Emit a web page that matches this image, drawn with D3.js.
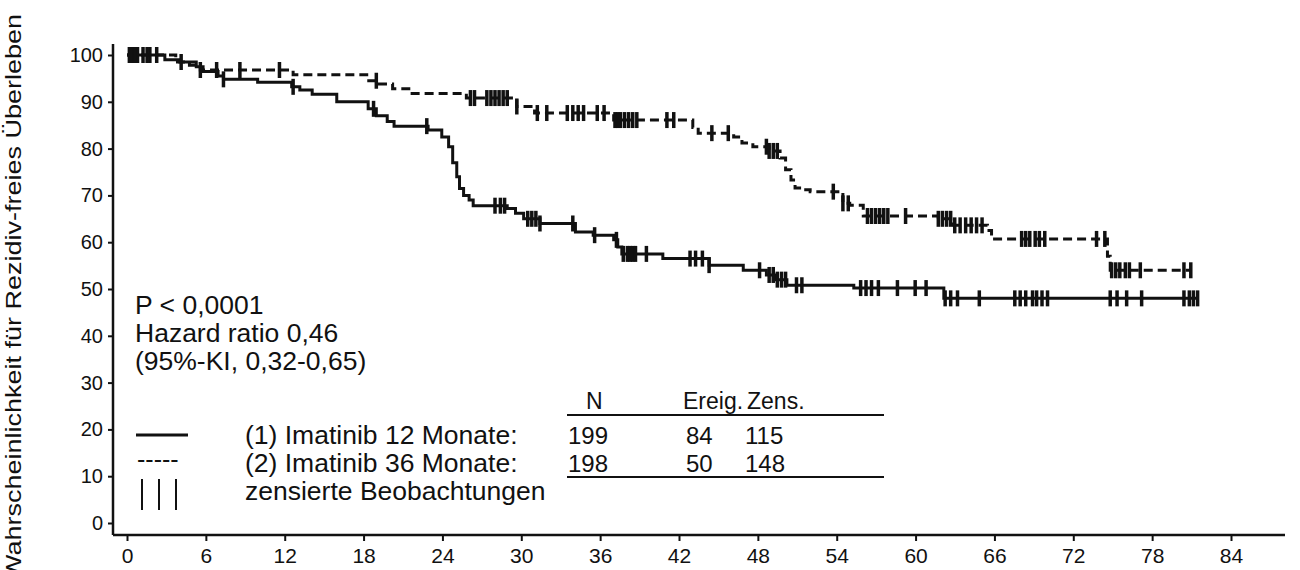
<!DOCTYPE html>
<html>
<head>
<meta charset="utf-8">
<script src="https://cdn.jsdelivr.net/npm/d3@7"></script>
<style>
body { margin: 0; background: #fff; }
text { font-family: "Liberation Sans", Arial, sans-serif; fill: #111; }
</style>
</head>
<body>
<div id="chart"></div>
<script>
// tick values
var xTicks = [0, 6, 12, 18, 24, 30, 36, 42, 48, 54, 60, 66, 72, 78, 84];
var yTicks = [0, 10, 20, 30, 40, 50, 60, 70, 80, 90, 100];

// (1) Imatinib 12 Monate - step curve (month, % survival) and censored months
var timeA = [0, 2.88, 4.02, 5.27, 5.79, 6.93, 7.34, 9.94, 12.53, 13.15, 14.09, 15.96, 18.35, 18.97, 19.80, 20.32, 22.91, 23.95, 24.47, 24.78, 25.09, 25.30, 25.61, 26.03, 26.34, 28.93, 29.56, 30.18, 31.42, 34.12, 35.47, 37.03, 37.34, 37.65, 40.77, 44.29, 46.89, 48.65, 49.38, 50.21, 55.30, 62.15, 81.46];
var survA = [100, 99, 98.5, 97.5, 96.5, 95.5, 94.8, 94.2, 93.2, 92.5, 91.6, 90, 88.5, 87, 85.8, 84.8, 84, 82.5, 80.4, 77, 74, 71.5, 70, 69, 67.8, 67.2, 66.2, 65, 64, 62.2, 61.5, 60.5, 59, 57.5, 56.5, 55.1, 54, 53, 52, 50.8, 50.2, 48, 48];
var censorA = [0.18, 0.34, 0.49, 0.65, 0.80, 1.22, 1.74, 2.26, 4.12, 7.34, 12.64, 18.76, 22.81, 28.0, 28.41, 28.73, 30.49, 30.80, 31.11, 31.42, 33.92, 35.58, 37.24, 37.76, 38.07, 38.28, 38.48, 38.69, 39.52, 42.84, 43.26, 43.78, 44.29, 48.13, 48.86, 49.17, 49.48, 49.80, 50.11, 50.94, 51.35, 55.82, 56.23, 56.65, 57.17, 58.62, 59.97, 60.80, 62.25, 62.67, 63.19, 64.85, 67.55, 67.96, 68.38, 68.90, 69.21, 69.62, 70.04, 74.81, 75.33, 76.06, 77.20, 80.42, 80.83, 81.14, 81.46];

// (2) Imatinib 36 Monate
var timeB = [0, 3.71, 4.75, 5.58, 12.64, 18.24, 19.07, 20.21, 21.56, 25.82, 29.66, 31.01, 37.03, 43.05, 43.46, 46.16, 46.79, 47.62, 48.86, 49.69, 50.11, 50.52, 50.83, 51.46, 51.98, 54.47, 54.99, 56.02, 61.73, 62.88, 65.47, 65.78, 74.60, 74.81, 80.94];
var survB = [100, 98.5, 97.8, 96.8, 95.8, 94.5, 93.8, 92.8, 91.8, 90.8, 89, 87.6, 86.1, 84.5, 83.3, 82.5, 81.2, 80.4, 79.5, 78, 75.5, 73.3, 71.6, 71.2, 70.8, 68.3, 67.9, 65.6, 65, 63.6, 62.5, 60.7, 57, 54, 54];
var censorB = [0.28, 0.60, 1.53, 5.58, 6.82, 8.59, 11.60, 18.97, 26.13, 26.44, 27.38, 27.69, 28.0, 28.31, 28.62, 28.93, 29.66, 31.22, 31.94, 33.50, 33.92, 34.33, 34.74, 35.78, 36.30, 37.13, 37.34, 37.55, 37.86, 38.17, 38.48, 38.79, 41.08, 41.60, 44.50, 45.75, 48.65, 48.86, 49.17, 49.48, 53.74, 54.47, 54.88, 56.34, 56.65, 56.96, 57.27, 57.58, 57.89, 59.24, 61.73, 62.04, 62.36, 62.67, 62.98, 63.39, 63.81, 64.23, 64.64, 65.06, 68.07, 68.38, 68.69, 69.10, 69.42, 69.83, 73.77, 74.40, 74.92, 75.23, 75.54, 75.96, 76.27, 77.10, 80.42, 80.94];

// legend table
var tableHead = ["N", "Ereig.", "Zens."];
var tableRows = [
  {label: "(1) Imatinib 12 Monate:", vals: ["199", "84", "115"]},
  {label: "(2) Imatinib 36 Monate:", vals: ["198", "50", "148"]}
];
var statLines = ["P < 0,0001", "Hazard ratio 0,46", "(95%-KI, 0,32-0,65)"];

var svg = d3.select("#chart").append("svg")
  .attr("width", 1300)
  .attr("height", 570);

var x = d3.scaleLinear().domain([0, 84]).range([127, 1231]);
var y = d3.scaleLinear().domain([0, 100]).range([523, 55]);

var axisX = 113, axisY = 535;

// axes
var yAxis = svg.append("g")
  .attr("transform", "translate(" + axisX + ",0)")
  .call(d3.axisLeft(y).tickValues(yTicks).tickSize(5).tickPadding(5));
yAxis.select(".domain").remove();
yAxis.selectAll("line").attr("stroke", "#111").attr("stroke-width", 2);
yAxis.selectAll("text").attr("font-size", 20).attr("font-family", "Liberation Sans, Arial, sans-serif").attr("fill", "#222");

var xAxis = svg.append("g")
  .attr("transform", "translate(0," + axisY + ")")
  .call(d3.axisBottom(x).tickValues(xTicks).tickSize(6).tickPadding(7));
xAxis.select(".domain").remove();
xAxis.selectAll("line").attr("stroke", "#111").attr("stroke-width", 2);
xAxis.selectAll("text").attr("font-size", 21).attr("font-family", "Liberation Sans, Arial, sans-serif").attr("fill", "#222");

svg.append("line")
  .attr("x1", axisX).attr("y1", y(100) - 11)
  .attr("x2", axisX).attr("y2", axisY)
  .attr("stroke", "#111").attr("stroke-width", 2.5);
svg.append("line")
  .attr("x1", axisX).attr("y1", axisY)
  .attr("x2", x(84) + 54).attr("y2", axisY)
  .attr("stroke", "#111").attr("stroke-width", 2.5);

// y title
svg.append("text")
  .attr("transform", "translate(21,297) rotate(-90)")
  .attr("text-anchor", "middle")
  .attr("font-size", 22)
  .attr("textLength", 566)
  .attr("lengthAdjust", "spacingAndGlyphs")
  .text("Wahrscheinlichkeit für Rezidiv-freies Überleben");

// curves
function stepPts(times, surv) {
  return times.map(function(t, i) { return [t, surv[i]]; });
}
function survAt(times, surv, t) {
  var i = d3.bisectRight(times, t) - 1;
  return surv[Math.max(0, i)];
}

var line = d3.line()
  .x(function(d) { return x(d[0]); })
  .y(function(d) { return y(d[1]); })
  .curve(d3.curveStepAfter);

svg.append("path")
  .attr("d", line(stepPts(timeA, survA)))
  .attr("fill", "none").attr("stroke", "#111").attr("stroke-width", 3);

svg.append("path")
  .attr("d", line(stepPts(timeB, survB)))
  .attr("fill", "none").attr("stroke", "#111").attr("stroke-width", 3)
  .attr("stroke-dasharray", "9,5");

function drawCensor(list, times, surv) {
  svg.append("g").selectAll("line")
    .data(list)
    .enter().append("line")
    .attr("x1", function(d) { return x(d); })
    .attr("x2", function(d) { return x(d); })
    .attr("y1", function(d) { return y(survAt(times, surv, d)) - 8; })
    .attr("y2", function(d) { return y(survAt(times, surv, d)) + 8; })
    .attr("stroke", "#111").attr("stroke-width", 3.5);
}
drawCensor(censorA, timeA, survA);
drawCensor(censorB, timeB, survB);

// statistics text
svg.append("g").selectAll("text")
  .data(statLines)
  .enter().append("text")
  .attr("x", 135)
  .attr("y", function(d, i) { return 314 + i * 28; })
  .attr("font-size", 26.5)
  .text(function(d) { return d; });

// legend table
var colX = [568, 686, 745];
var headX = [586, 683, 747];
svg.append("g").selectAll("text")
  .data(tableHead)
  .enter().append("text")
  .attr("x", function(d, i) { return headX[i]; })
  .attr("y", 409)
  .attr("font-size", 23)
  .text(function(d) { return d; });

svg.append("line").attr("x1", 567).attr("x2", 884).attr("y1", 415).attr("y2", 415)
  .attr("stroke", "#111").attr("stroke-width", 2);
svg.append("line").attr("x1", 567).attr("x2", 884).attr("y1", 477).attr("y2", 477)
  .attr("stroke", "#111").attr("stroke-width", 2);

tableRows.forEach(function(r, ri) {
  var by = 444 + ri * 27.5;
  svg.append("text").attr("x", 245).attr("y", by).attr("font-size", 26.5).text(r.label);
  r.vals.forEach(function(v, ci) {
    svg.append("text").attr("x", colX[ci]).attr("y", by).attr("font-size", 24).text(v);
  });
});
svg.append("text").attr("x", 245).attr("y", 500).attr("font-size", 26.5).text("zensierte Beobachtungen");

// legend symbols
svg.append("line").attr("x1", 136).attr("x2", 188).attr("y1", 435).attr("y2", 435)
  .attr("stroke", "#111").attr("stroke-width", 3);
svg.append("text").attr("x", 137).attr("y", 468).attr("font-size", 25).text("-----");
[142, 159, 176].forEach(function(lx) {
  svg.append("line").attr("x1", lx).attr("x2", lx).attr("y1", 479).attr("y2", 510)
    .attr("stroke", "#111").attr("stroke-width", 2);
});
</script>
</body>
</html>
